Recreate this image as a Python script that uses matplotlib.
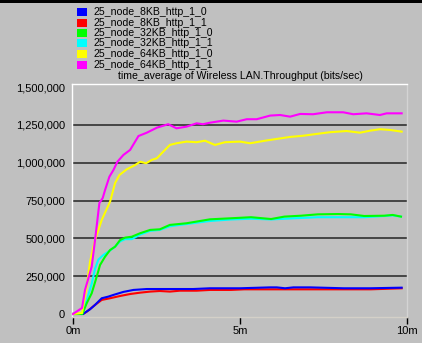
import matplotlib
matplotlib.use("Agg")
import matplotlib.pyplot as plt
from matplotlib.patches import Rectangle

plt.rcParams['font.family'] = ['Liberation Sans', 'DejaVu Sans']

# ---- data (time in minutes, throughput in bits/sec) ----
series_names = ["25_node_8KB_http_1_0", "25_node_8KB_http_1_1",
                "25_node_32KB_http_1_0", "25_node_32KB_http_1_1",
                "25_node_64KB_http_1_0", "25_node_64KB_http_1_1"]
series_colors = ["#0000ff", "#ff0000", "#00ff00", "#00ffff", "#ffff00", "#ff00ff"]

t_blue = [0, 0.30, 0.51, 0.66, 0.86, 1.06, 1.21, 1.51, 1.81, 2.21, 2.60, 3.10, 3.60, 4.10,
          4.70, 5.00, 5.90, 6.10, 6.35, 6.60, 7.10, 8.10, 8.90, 9.84]
v_blue = [0, 0, 31000, 60000, 104000, 115000, 126000, 146000, 159000, 165000, 165000, 165000,
          165000, 170000, 170000, 170000, 176000, 176000, 170000, 176000, 176000, 170000,
          170000, 174000]

t_red = [0, 0.30, 0.41, 0.66, 0.86, 1.11, 1.41, 1.71, 2.01, 2.31, 2.60, 2.90, 3.20, 3.70,
         4.10, 4.73, 5.13, 6.62, 8.12, 8.92, 9.84]
v_red = [0, 0, 15000, 60000, 93000, 104000, 119000, 132000, 141000, 148000, 152000, 148000,
         154000, 154000, 159000, 159000, 163000, 163000, 163000, 163000, 170000]

t_green = [0, 0.27, 0.29, 0.41, 0.56, 0.71, 0.81, 0.96, 1.11, 1.26, 1.41, 1.56, 1.76, 2.01,
           2.31, 2.60, 2.90, 3.40, 4.10, 4.73, 5.33, 5.93, 6.33, 6.83, 7.33, 7.93, 8.32,
           8.72, 9.32, 9.57, 9.82]
v_green = [0, 0, 5000, 71000, 137000, 247000, 324000, 379000, 423000, 445000, 489000,
           505000, 511000, 534000, 556000, 560000, 589000, 600000, 626000, 633000, 640000,
           628000, 644000, 650000, 659000, 661000, 659000, 648000, 650000, 655000, 644000]

t_cyan = [0, 0.27, 0.41, 0.56, 0.66, 0.76, 0.91, 1.11, 1.26, 1.41, 1.56, 1.76, 2.01, 2.31,
          2.60, 2.90, 3.40, 4.10, 4.73, 5.33, 5.93, 6.33, 6.83, 7.33, 7.93, 8.32, 8.72,
          9.32, 9.57, 9.82]
v_cyan = [0, 0, 90000, 200000, 300000, 360000, 390000, 420000, 445000, 480000, 495000,
          495000, 525000, 550000, 556000, 580000, 595000, 615000, 625000, 630000, 625000,
          630000, 635000, 640000, 640000, 640000, 640000, 648000, 652000, 644000]

t_yellow = [0, 0.27, 0.41, 0.51, 0.66, 0.86, 1.11, 1.26, 1.39, 1.61, 1.86, 2.01, 2.19,
            2.36, 2.51, 2.70, 2.90, 3.10, 3.40, 3.70, 3.95, 4.25, 4.55, 5.00, 5.30, 5.75,
            5.90, 6.50, 6.90, 7.30, 7.69, 8.19, 8.59, 8.89, 9.19, 9.49, 9.84]
v_yellow = [0, 7000, 181000, 346000, 489000, 622000, 743000, 866000, 919000, 957000,
            985000, 1007000, 997000, 1019000, 1030000, 1073000, 1118000, 1129000, 1140000,
            1136000, 1146000, 1118000, 1136000, 1140000, 1129000, 1146000, 1151000,
            1171000, 1179000, 1191000, 1202000, 1210000, 1199000, 1212000, 1222000,
            1217000, 1206000]

t_magenta = [0, 0.27, 0.36, 0.56, 0.66, 0.79, 0.89, 0.96, 1.09, 1.21, 1.33, 1.51, 1.71,
             1.86, 1.96, 2.21, 2.51, 2.85, 3.10, 3.40, 3.70, 3.89, 4.10, 4.50, 4.90, 5.20,
             5.50, 5.90, 6.20, 6.50, 6.80, 7.19, 7.60, 8.09, 8.39, 8.79, 9.19, 9.39, 9.84]
v_magenta = [0, 39700, 159000, 313000, 489000, 734000, 767000, 820000, 908000, 952000,
             1007000, 1052000, 1085000, 1140000, 1177000, 1199000, 1232000, 1255000,
             1228000, 1239000, 1261000, 1255000, 1265000, 1279000, 1272000, 1288000,
             1288000, 1312000, 1316000, 1305000, 1323000, 1321000, 1334000, 1334000,
             1321000, 1327000, 1316000, 1327000, 1327000]

y_ticks = [0, 250000, 500000, 750000, 1000000, 1250000, 1500000]
y_ticklabels = ["0", "250,000", "500,000", "750,000", "1,000,000", "1,250,000", "1,500,000"]
x_ticks = [0, 5, 10]
x_ticklabels = ["0m", "5m", "10m"]
chart_title = "time_average of Wireless LAN.Throughput (bits/sec)"

# ---- figure ----
W, H = 422, 343
BG = "#c0c0c0"
fig = plt.figure(figsize=(W / 100, H / 100), dpi=100, facecolor=BG)

# top black band (screenshot frame)
fig.patches.append(Rectangle((0, 1 - 3 / H), 1, 3 / H, transform=fig.transFigure,
                             facecolor="black", edgecolor="none"))

ax = fig.add_axes([72 / W, 26 / H, 335 / W, 233 / H])
ax.set_facecolor(BG)
ax.set_xlim(-0.03, 10)
ax.set_ylim(-20000, 1521000)

for g in y_ticks[1:-1]:
    ax.axhline(g, color="#303030", lw=1.2, zorder=1)

data = {
    1: (t_red, v_red),
    0: (t_blue, v_blue),
    3: (t_cyan, v_cyan),
    2: (t_green, v_green),
    4: (t_yellow, v_yellow),
    5: (t_magenta, v_magenta),
}
for z, idx in enumerate([1, 0, 3, 2, 4, 5]):
    t, v = data[idx]
    ax.plot(t, v, color=series_colors[idx], lw=1.5, zorder=3 + z,
            solid_joinstyle="miter")

ax.set_yticks(y_ticks)
ax.set_yticklabels(y_ticklabels, fontsize=8)
ax.tick_params(axis="y", length=0, pad=5)
ax.set_xticks(x_ticks)
ax.set_xticklabels(x_ticklabels, fontsize=8)
ax.tick_params(axis="x", length=5, width=1, direction="out", pad=1.5, color="black")

ax.spines["left"].set_color("white")
ax.spines["top"].set_color("white")
ax.spines["right"].set_color("#d4d4d4")
ax.spines["bottom"].set_color("#d4d0c8")
for s in ax.spines.values():
    s.set_linewidth(1.0)

# legend (manual, OPNET style)
row_y = [12, 23, 33, 43, 54, 65]
for name, col, yc in zip(series_names, series_colors, row_y):
    fig.patches.append(Rectangle((77 / W, 1 - (yc + 4) / H), 10 / W, 8 / H,
                                 transform=fig.transFigure, facecolor=col,
                                 edgecolor="none"))
    fig.text(94 / W, 1 - yc / H, name, fontsize=7.6, va="center", ha="left",
             color="black")

fig.text(240 / W, 1 - 76 / H, chart_title, fontsize=7.6, va="center", ha="center",
         color="black")

fig.savefig("out.png", dpi=100, facecolor=BG)
